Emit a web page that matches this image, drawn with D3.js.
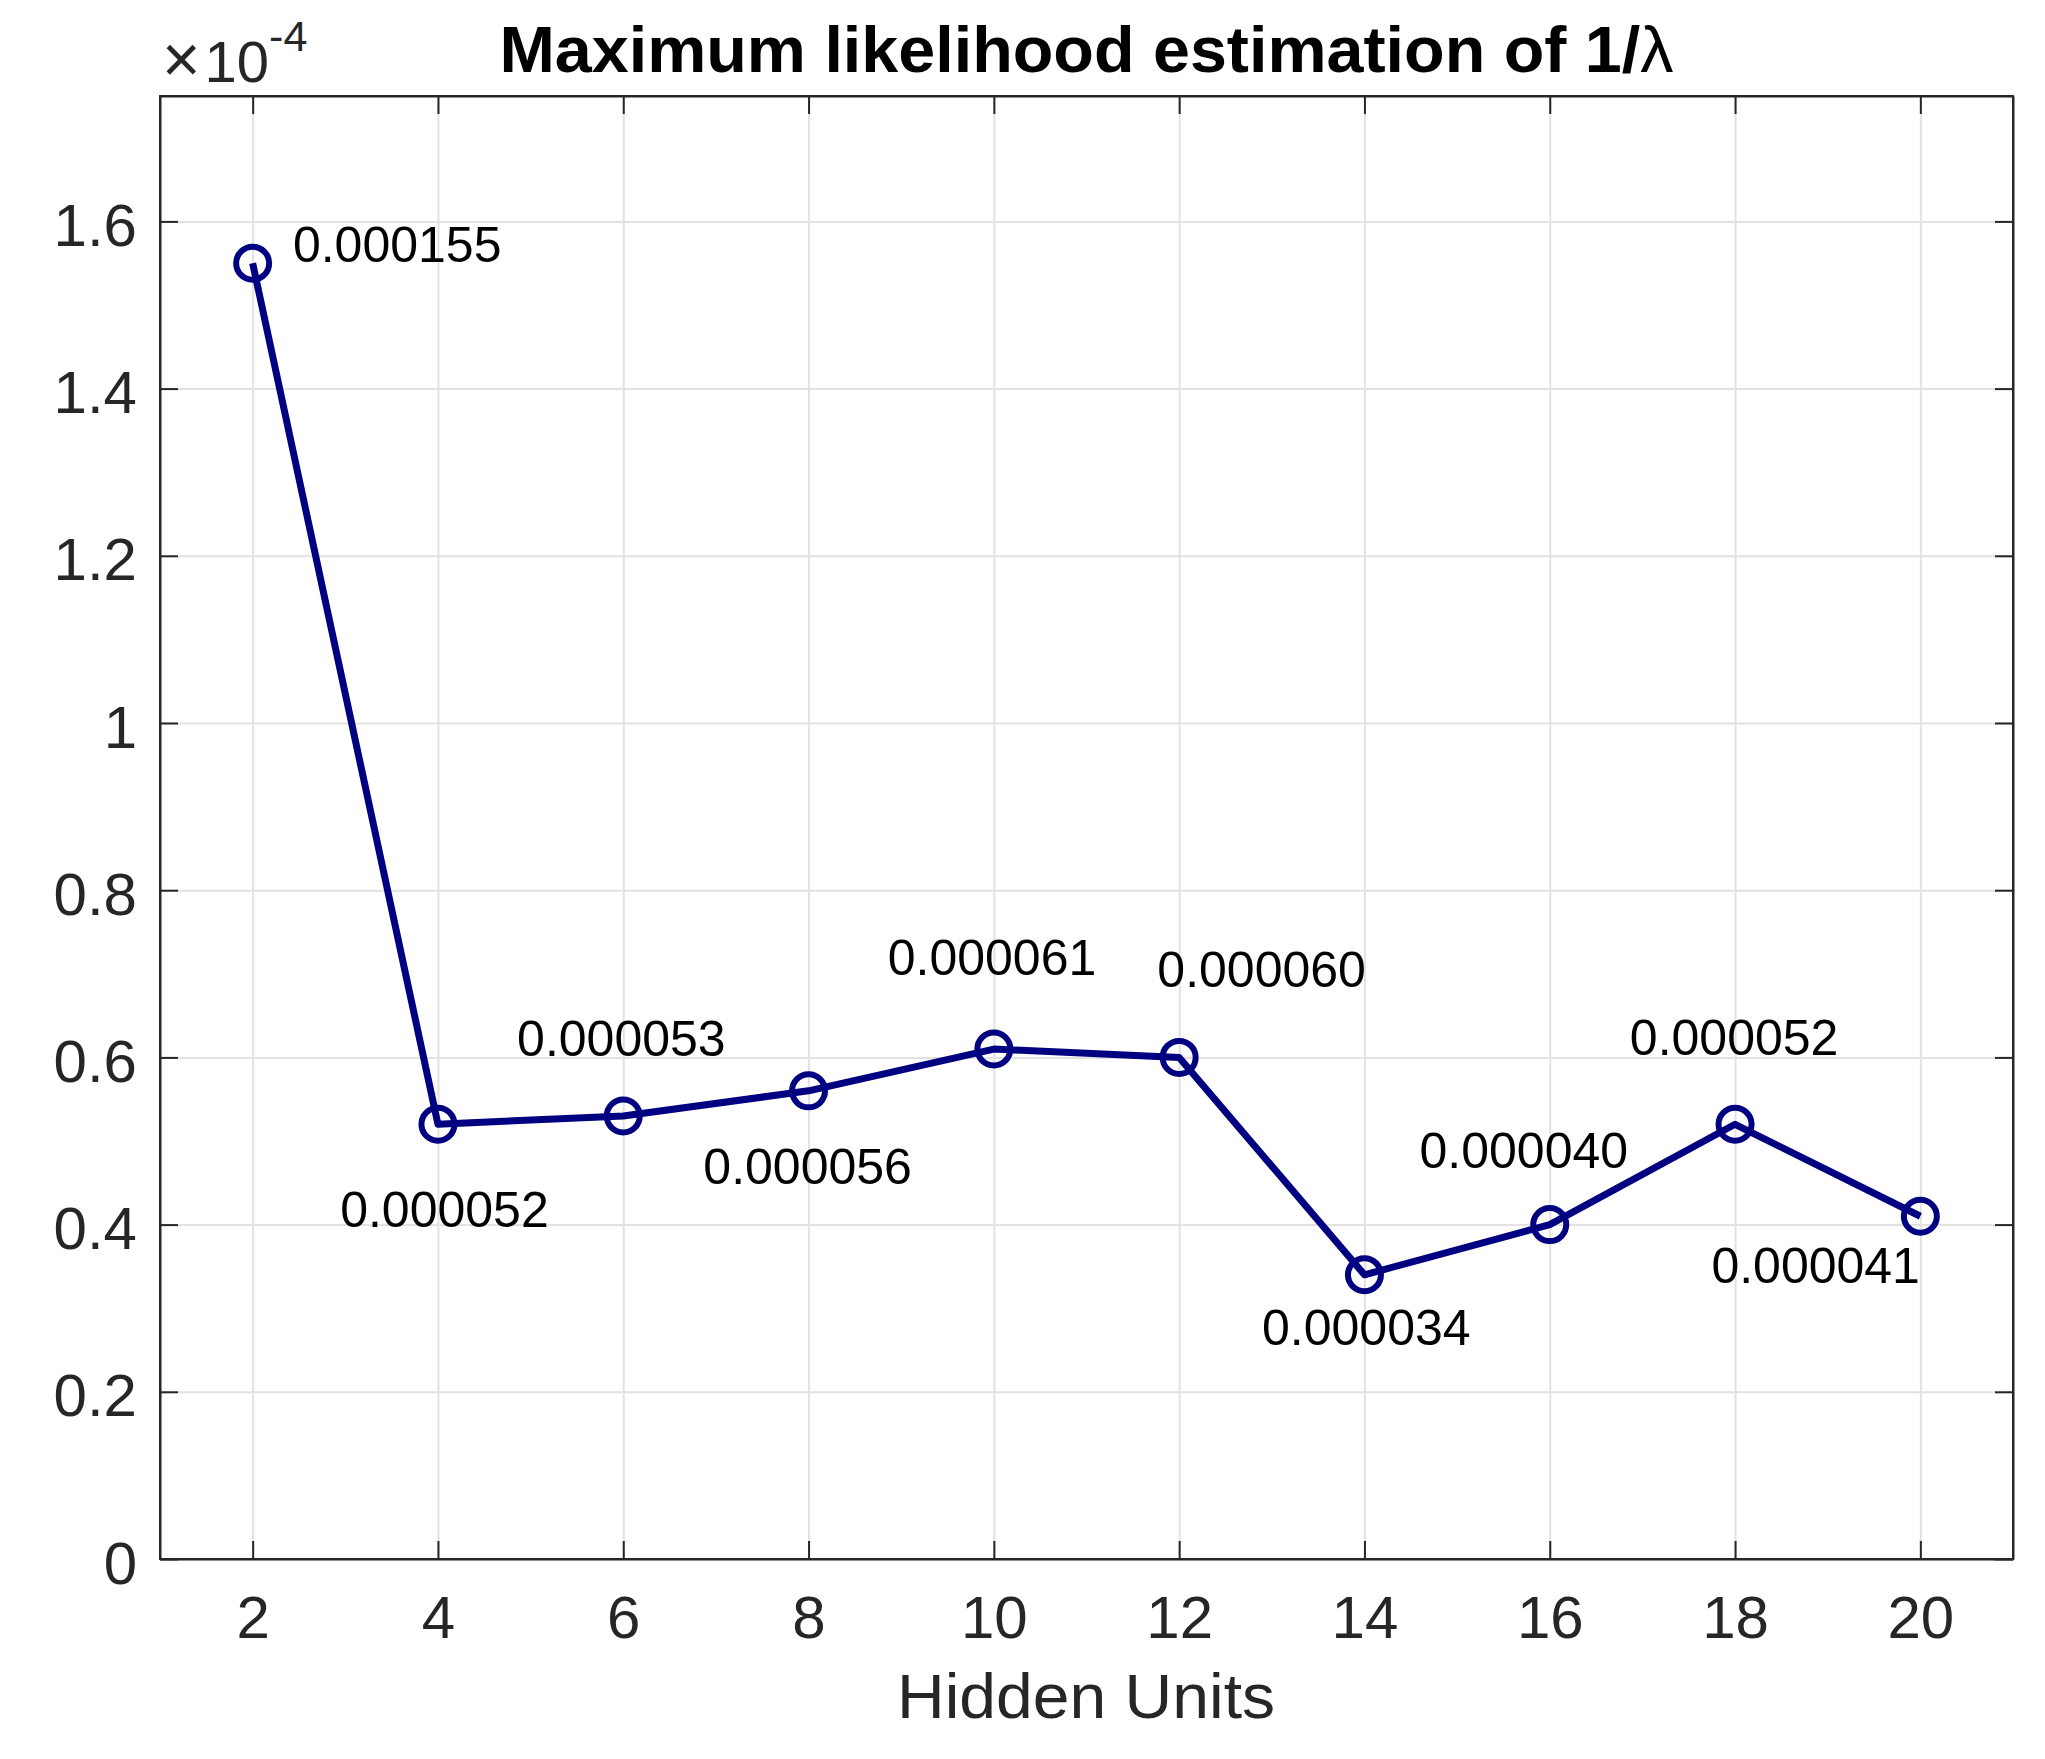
<!DOCTYPE html>
<html>
<head>
<meta charset="utf-8">
<script src="https://cdn.jsdelivr.net/npm/d3@7"></script>
<style>
  body { margin: 0; background: #fff; }
  text { font-family: "Liberation Sans", Arial, Helvetica, sans-serif; }
</style>
</head>
<body>
<svg id="chart"></svg>
<script>
// data (y values in units of 1e-4)
const hiddenUnits = [2, 4, 6, 8, 10, 12, 14, 16, 18, 20];
const estimates = [1.55, 0.52, 0.53, 0.56, 0.61, 0.60, 0.34, 0.40, 0.52, 0.41];
const xTicks = [2, 4, 6, 8, 10, 12, 14, 16, 18, 20];
const yTicks = [0, 0.2, 0.4, 0.6, 0.8, 1, 1.2, 1.4, 1.6];
// where each value label sits, in data units (x, y*1e-4)
const labelX = [3.56, 4.07, 5.98, 7.99, 9.98, 12.89, 14.02, 15.72, 17.99, 18.87];
const labelY = [1.551, 0.397, 0.602, 0.449, 0.699, 0.684, 0.256, 0.468, 0.603, 0.330];

const width = 2045;
const height = 1759;
const margin = { top: 96, right: 32, bottom: 200, left: 160 };
const axisColor = "#262626";
const lineColor = "#000080";

const svg = d3.select("#chart")
  .attr("width", width)
  .attr("height", height)
  .style("background", "#fff");

const x = d3.scaleLinear()
  .domain([1, 21])
  .range([margin.left, width - margin.right]);

const y = d3.scaleLinear()
  .domain([0, 1.75])
  .range([height - margin.bottom, margin.top]);

const x0 = x.range()[0], x1 = x.range()[1];
const y0 = y.range()[0], y1 = y.range()[1];

// grid
svg.append("g")
  .attr("transform", `translate(0, ${y0})`)
  .call(d3.axisBottom(x).tickValues(xTicks).tickSize(-(y0 - y1)).tickFormat(""))
  .call(g => g.select(".domain").remove())
  .call(g => g.selectAll("line").attr("stroke", "#e2e2e2").attr("stroke-width", 2));

svg.append("g")
  .attr("transform", `translate(${x0}, 0)`)
  .call(d3.axisLeft(y).tickValues(yTicks).tickSize(-(x1 - x0)).tickFormat(""))
  .call(g => g.select(".domain").remove())
  .call(g => g.selectAll("line").attr("stroke", "#e2e2e2").attr("stroke-width", 2));

// axes, ticks pointing inward
const xAxis = svg.append("g")
  .attr("transform", `translate(0, ${y0})`)
  .call(d3.axisBottom(x).tickValues(xTicks).tickSize(-18).tickSizeOuter(0));
xAxis.selectAll("text")
  .attr("y", 79)
  .attr("dy", 0)
  .attr("fill", axisColor)
  .style("font-size", "60px");

const yAxis = svg.append("g")
  .attr("transform", `translate(${x0}, 0)`)
  .call(d3.axisLeft(y).tickValues(yTicks).tickSize(-18).tickSizeOuter(0)
    .tickFormat(d => d3.format("~g")(d)));
yAxis.selectAll("text")
  .attr("x", -23)
  .attr("dy", 24)
  .attr("fill", axisColor)
  .style("font-size", "60px");

svg.append("g")
  .attr("transform", `translate(0, ${y1})`)
  .call(d3.axisTop(x).tickValues(xTicks).tickSize(-18).tickSizeOuter(0).tickFormat(""));

svg.append("g")
  .attr("transform", `translate(${x1}, 0)`)
  .call(d3.axisRight(y).tickValues(yTicks).tickSize(-18).tickSizeOuter(0).tickFormat(""));

svg.selectAll(".domain, .tick line")
  .filter(function () { return d3.select(this).attr("stroke") !== "#e2e2e2"; })
  .attr("stroke", axisColor)
  .attr("stroke-width", 2);

// box
svg.append("rect")
  .attr("x", x0)
  .attr("y", y1)
  .attr("width", x1 - x0)
  .attr("height", y0 - y1)
  .attr("fill", "none")
  .attr("stroke", axisColor)
  .attr("stroke-width", 2);

// line + markers
const pts = hiddenUnits.map((h, i) => ({ h, v: estimates[i], lx: labelX[i], ly: labelY[i] }));

svg.append("path")
  .datum(pts)
  .attr("fill", "none")
  .attr("stroke", lineColor)
  .attr("stroke-width", 7)
  .attr("stroke-linejoin", "round")
  .attr("d", d3.line().x(d => x(d.h)).y(d => y(d.v)));

svg.selectAll("circle.mk")
  .data(pts)
  .enter()
  .append("circle")
  .attr("class", "mk")
  .attr("cx", d => x(d.h))
  .attr("cy", d => y(d.v))
  .attr("r", 16.5)
  .attr("fill", "none")
  .attr("stroke", lineColor)
  .attr("stroke-width", 6);

// value labels
svg.selectAll("text.val")
  .data(pts)
  .enter()
  .append("text")
  .attr("class", "val")
  .attr("x", d => x(d.lx))
  .attr("y", d => y(d.ly))
  .attr("text-anchor", "middle")
  .attr("fill", "#000")
  .style("font-size", "50px")
  .text(d => (d.v * 1e-4).toFixed(6));

// exponent
const expo = svg.append("text")
  .attr("x", 162)
  .attr("y", 82)
  .attr("fill", axisColor)
  .style("font-size", "58px");
expo.append("tspan").style("font-size", "66px").text("×");
expo.append("tspan").attr("dx", 4).text("10");
expo.append("tspan")
  .attr("dy", -31)
  .style("font-size", "43px")
  .text("-4");

// title
const title = svg.append("text")
  .attr("x", (x0 + x1) / 2)
  .attr("y", 72)
  .attr("text-anchor", "middle")
  .attr("fill", "#000")
  .attr("textLength", 1174)
  .attr("lengthAdjust", "spacingAndGlyphs")
  .style("font-size", "65px")
  .style("font-weight", "bold");
title.append("tspan").text("Maximum likelihood estimation of 1/");
title.append("tspan").style("font-weight", "normal").text("λ");

// x label
svg.append("text")
  .attr("x", 1086)
  .attr("y", 1718)
  .attr("text-anchor", "middle")
  .attr("fill", axisColor)
  .attr("textLength", 378)
  .attr("lengthAdjust", "spacingAndGlyphs")
  .style("font-size", "63px")
  .text("Hidden Units");
</script>
</body>
</html>
